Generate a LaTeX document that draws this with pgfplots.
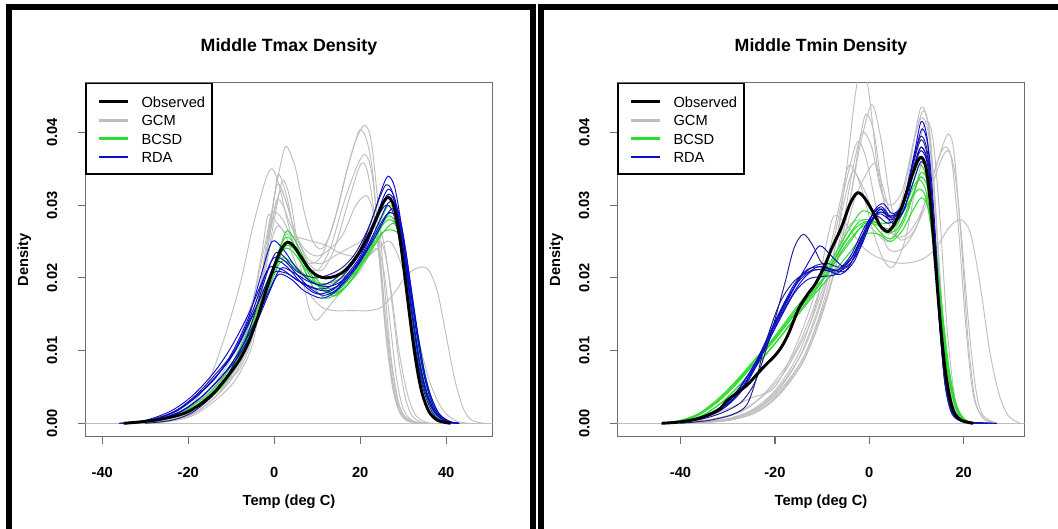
\documentclass[border=0pt]{standalone}
\usepackage{pgfplots}
\pgfplotsset{compat=1.18}
\usepackage{fontspec}
\setmainfont{Liberation Sans}
\definecolor{gcmc}{HTML}{BEBEBE}
\definecolor{bcsdc}{HTML}{2EDC2E}
\definecolor{rdac}{HTML}{0A0ACD}
\definecolor{rdanv}{HTML}{1C1C8A}
\definecolor{rbox}{HTML}{6E6E6E}
\pgfplotsset{
  gcmline/.style={gcmc, line width=0.7pt, smooth, forget plot},
  bcsdline/.style={bcsdc, line width=0.75pt, smooth, forget plot},
  rdaline/.style={rdac, line width=0.7pt, smooth, forget plot},
  rdaline2/.style={rdanv, line width=0.7pt, smooth, forget plot},
  obsline/.style={black, line width=2.2pt, smooth, forget plot},
  rpanel/.style={
    scale only axis, width=305.4pt, height=265.4pt, anchor=south west,
    ymin=-0.00181, ymax=0.04686,
    ytick={0,0.01,0.02,0.03,0.04},
    scaled y ticks=false,
    xtick pos=bottom, ytick pos=left,
    tick align=outside,
    major tick length=5.85pt,
    axis line style={draw=rbox, line width=0.9pt},
    tick style={draw=rbox, line width=0.9pt},
    /pgf/number format/assume math mode=true,
    tick label style={font=\bfseries\fontsize{11}{13}\selectfont, inner sep=0pt},
    x tick label style={anchor=center},
    xticklabel shift=21pt,
    y tick label style={rotate=90, anchor=center, /pgf/number format/fixed, /pgf/number format/fixed zerofill, /pgf/number format/precision=2},
    yticklabel shift=19pt,
    every axis title/.style={at={(axis description cs:0.5,1)}, anchor=center, yshift=26.5pt, font=\bfseries\fontsize{13.3}{16}\selectfont},
    every axis x label/.style={at={(axis description cs:0.5,0)}, anchor=center, yshift=-49pt, font=\bfseries\fontsize{11}{13}\selectfont},
    every axis y label/.style={at={(axis description cs:0,0.5)}, anchor=center, xshift=-45.75pt, rotate=90, font=\bfseries\fontsize{11}{13}\selectfont},
    xlabel={Temp (deg C)}, ylabel={Density},
    legend style={at={(axis description cs:0,1)}, anchor=north west, draw=black, line width=1.3pt, fill=white,
      inner xsep=5pt, inner ysep=7.9pt, row sep=3.3pt, column sep=9.4pt,
      font=\fontsize{11}{13}\selectfont, cells={anchor=west},
      nodes={inner sep=0pt, text height=10pt, text depth=0.5pt}},
    legend image code/.code={\path[draw=none, fill=none] (0pt,-0.6pt) -- (4.7pt,-0.6pt); \draw[##1] (4.7pt,-0.6pt) -- (26pt,-0.6pt);},
  }
}
\begin{document}
\begin{tikzpicture}
\useasboundingbox (0pt,0pt) rectangle (793.5pt,396.75pt);
% ---------------- Left panel: Tmax ----------------
\begin{axis}[rpanel, at={(64pt,69.4pt)}, xmin=-43.93, xmax=50.77, xtick={-40,-20,0,20,40}, title={Middle Tmax Density}]
\addplot[gcmline] coordinates {(-60,0)(60,0)};
% GCM
\addplot[gcmline] coordinates {(-30,0)(-22,0.0008)(-15,0.0035)(-11,0.0058)(-8,0.0075)(-5,0.012)(-2,0.022)(0,0.031)(2,0.037)(3,0.038)(5,0.035)(7,0.029)(9,0.025)(11,0.024)(13,0.026)(15,0.030)(17,0.035)(19,0.039)(21,0.041)(22.5,0.039)(24,0.031)(25.5,0.020)(27,0.010)(28.5,0.004)(30,0.0012)(33,0.0001)(36,0)};
\addplot[gcmline] coordinates {(-32,0)(-22,0.0015)(-16,0.005)(-12,0.011)(-8,0.019)(-5,0.027)(-2,0.0335)(-0.5,0.035)(1,0.033)(3,0.028)(5,0.024)(8,0.022)(11,0.023)(14,0.028)(17,0.035)(19,0.039)(20,0.0404)(21.5,0.039)(23,0.034)(24.5,0.023)(26,0.012)(27.5,0.005)(29,0.0017)(31,0.0003)(35,0)};
\addplot[gcmline] coordinates {(-30,0)(-20,0.001)(-14,0.0035)(-9,0.007)(-5,0.0125)(-2,0.024)(0,0.031)(1,0.0343)(3,0.031)(5,0.025)(7,0.022)(10,0.021)(13,0.024)(16,0.030)(19,0.035)(21,0.037)(22.5,0.035)(24,0.028)(25.5,0.017)(27,0.008)(28.5,0.003)(30,0.0008)(33,0)};
\addplot[gcmline] coordinates {(-28,0)(-20,0.0008)(-14,0.003)(-9,0.006)(-5,0.011)(-2,0.021)(0,0.028)(2,0.0334)(4,0.030)(6,0.022)(8,0.016)(9.5,0.0142)(11,0.0148)(14,0.017)(17,0.019)(20,0.021)(22,0.023)(24,0.024)(25.5,0.021)(27,0.0135)(28.5,0.006)(30,0.002)(32,0.0004)(35,0)};
\addplot[gcmline] coordinates {(-30,0)(-20,0.0015)(-14,0.005)(-9,0.009)(-5,0.015)(-2,0.022)(0.5,0.027)(2.5,0.026)(5,0.022)(8,0.018)(11,0.016)(14,0.0155)(18,0.0155)(22,0.0155)(25,0.016)(28,0.018)(31,0.0205)(34,0.0215)(36,0.021)(38,0.018)(40,0.012)(42,0.006)(44,0.002)(46,0.0004)(49,0)};
\addplot[gcmline] coordinates {(-30,0)(-20,0.001)(-13,0.004)(-8,0.008)(-4,0.016)(-1,0.026)(0.5,0.0306)(2,0.030)(4,0.027)(7,0.024)(10,0.023)(13,0.024)(16,0.026)(19,0.030)(21.5,0.0313)(23,0.029)(24.5,0.023)(26,0.014)(27.5,0.007)(29,0.0025)(31,0.0006)(34,0)};
\addplot[gcmline] coordinates {(-32,0)(-22,0.001)(-15,0.004)(-10,0.008)(-6,0.014)(-3,0.023)(-1.5,0.0285)(0,0.028)(3,0.026)(6,0.0255)(9,0.025)(12,0.0245)(15,0.0235)(18,0.023)(21,0.023)(24,0.025)(25.5,0.024)(27,0.019)(29,0.010)(31,0.004)(33,0.001)(36,0)};
\addplot[gcmline] coordinates {(-29,0)(-20,0.001)(-14,0.0035)(-9,0.0075)(-5,0.0135)(-2,0.023)(0,0.029)(1.5,0.032)(3,0.030)(5,0.026)(8,0.022)(11,0.021)(14,0.024)(17,0.030)(20,0.0355)(21.5,0.035)(23,0.030)(24.5,0.022)(26,0.012)(27.5,0.0055)(29,0.002)(31,0.0005)(34,0)};
\addplot[gcmline] coordinates {(-33,0)(-23,0.001)(-16,0.004)(-10,0.009)(-5,0.017)(-2,0.025)(-0.5,0.029)(2,0.028)(5,0.024)(8,0.020)(12,0.019)(16,0.020)(20,0.022)(24,0.024)(27,0.025)(30,0.021)(33,0.013)(36,0.006)(39,0.002)(42,0.0004)(45,0)};
\addplot[gcmline] coordinates {(-30,0)(-21,0.001)(-14,0.004)(-9,0.0075)(-5,0.013)(-2,0.023)(0.5,0.0326)(2.5,0.031)(5,0.026)(8,0.0225)(11,0.022)(14,0.023)(17,0.024)(20,0.025)(22.5,0.0265)(24.5,0.027)(26,0.023)(27.5,0.016)(29,0.0085)(30.5,0.0035)(32,0.0011)(34,0.0002)(37,0)};
% BCSD
\addplot[bcsdline] coordinates {(-34,0)(-28,0.0004)(-22,0.0012)(-17,0.0026)(-12,0.0052)(-8,0.0095)(-4,0.0145)(-1,0.0195)(1.5,0.0232)(3,0.0245)(5,0.0237)(8,0.021)(11,0.0185)(14,0.018)(17,0.0195)(20,0.022)(23,0.025)(25.5,0.0275)(27,0.028)(28.5,0.027)(30,0.023)(31.5,0.017)(33,0.011)(34.5,0.006)(36,0.003)(38,0.001)(41,0)};
\addplot[bcsdline] coordinates {(-34,0)(-28,0.0004)(-22,0.0013)(-17,0.0028)(-12,0.0055)(-8,0.0098)(-4,0.015)(-1,0.020)(1.5,0.0245)(3,0.0265)(5,0.025)(8,0.0215)(11,0.019)(14,0.0175)(17,0.019)(20,0.0215)(23,0.0245)(25,0.0262)(27,0.0266)(29,0.026)(30.5,0.023)(32,0.0175)(33.5,0.0115)(35,0.0065)(36.5,0.003)(38.5,0.001)(41,0)};
\addplot[bcsdline] coordinates {(-33,0)(-27,0.0005)(-21,0.0016)(-16,0.0034)(-11,0.0065)(-7,0.011)(-3,0.0162)(0,0.0205)(1.5,0.0222)(3,0.0222)(6,0.0207)(9,0.0195)(12,0.0192)(15,0.0198)(18,0.021)(21,0.0235)(24,0.027)(26,0.0295)(27,0.030)(28.5,0.029)(30,0.025)(31.5,0.0185)(33,0.0115)(34.5,0.0065)(36,0.003)(38,0.001)(41,0)};
\addplot[bcsdline] coordinates {(-33,0)(-27,0.0004)(-21,0.0014)(-16,0.003)(-11,0.006)(-7,0.0105)(-3,0.016)(0,0.0205)(2,0.0238)(4,0.0238)(7,0.0215)(10,0.019)(13,0.0178)(16,0.0185)(19,0.0205)(22,0.0235)(24.5,0.0268)(26.5,0.0285)(28,0.0278)(29.5,0.0245)(31,0.019)(32.5,0.0125)(34,0.007)(35.5,0.0035)(37.5,0.0012)(40,0)};
\addplot[bcsdline] coordinates {(-34,0)(-28,0.0004)(-22,0.0013)(-17,0.0029)(-12,0.0057)(-8,0.0095)(-4,0.0148)(-1,0.0198)(1,0.0235)(2.5,0.0255)(4,0.0252)(6,0.0225)(9,0.0188)(12,0.0172)(15,0.018)(18,0.0198)(21,0.0228)(24,0.0262)(26,0.0283)(27,0.029)(28.5,0.0282)(30,0.0245)(31.5,0.0185)(33,0.012)(34.5,0.0068)(36,0.0033)(38,0.0011)(41,0)};
\addplot[bcsdline] coordinates {(-33,0)(-27,0.0005)(-21,0.0018)(-16,0.0037)(-11,0.007)(-7,0.0115)(-3,0.017)(-0.5,0.021)(1,0.0226)(3,0.0226)(6,0.021)(9.5,0.0192)(12.5,0.0185)(16,0.0192)(19,0.0208)(22,0.0232)(25,0.026)(27.5,0.0275)(29,0.0265)(30.5,0.0228)(32,0.0172)(33.5,0.0112)(35,0.0064)(36.5,0.003)(38.5,0.001)(41,0)};
% RDA
\addplot[rdaline] coordinates {(-36,0)(-30,0.0003)(-24,0.0014)(-19,0.0033)(-14,0.006)(-10,0.0095)(-6,0.0145)(-3,0.0205)(-0.5,0.0250)(2,0.0240)(5,0.0215)(8,0.0197)(11,0.0190)(14,0.0198)(17,0.0215)(20,0.0240)(23,0.0285)(25,0.0322)(26.5,0.0340)(28,0.0325)(29.5,0.0275)(31,0.0205)(32.5,0.0135)(34,0.0078)(35.5,0.0042)(37.5,0.0015)(40,0.0003)(43,0)};
\addplot[rdaline] coordinates {(-35,0)(-29,0.0004)(-23,0.0016)(-18,0.0038)(-13,0.0068)(-9,0.0100)(-5,0.0148)(-2,0.019)(0.5,0.0222)(3,0.0215)(6,0.0195)(9,0.018)(11,0.0178)(14,0.0185)(17,0.0205)(20,0.023)(23,0.027)(25,0.030)(26.5,0.0315)(28,0.0305)(29.5,0.026)(31,0.0195)(32.5,0.013)(34,0.0075)(35.5,0.004)(37.5,0.0015)(40,0.0003)(43,0)};
\addplot[rdaline2] coordinates {(-35,0)(-29,0.0004)(-23,0.0017)(-18,0.004)(-13,0.0072)(-9,0.0102)(-5,0.015)(-2,0.0188)(0,0.0208)(3,0.0206)(6,0.0195)(10,0.0185)(13,0.0188)(16,0.0203)(19,0.0225)(22,0.0255)(24.5,0.0288)(26,0.030)(27.5,0.0292)(29,0.0255)(30.5,0.0195)(32,0.0135)(33.5,0.0082)(35,0.0045)(37,0.0017)(39.5,0.0004)(42,0)};
\addplot[rdaline] coordinates {(-34,0)(-28,0.0004)(-22,0.0016)(-17,0.0036)(-12,0.0066)(-8,0.0095)(-4,0.014)(-1,0.0182)(1,0.0205)(4,0.0198)(7,0.0182)(11,0.0172)(14,0.018)(17,0.0198)(20,0.0222)(23,0.0255)(25.5,0.0282)(27,0.029)(28.5,0.0282)(30,0.0248)(31.5,0.019)(33,0.0128)(34.5,0.0075)(36,0.004)(38,0.0013)(41,0.0002)(43,0)};
\addplot[rdaline2] coordinates {(-30,0)(-24,0.0004)(-19,0.0015)(-14,0.004)(-10,0.0075)(-6,0.0125)(-3,0.0182)(-1,0.0218)(0.5,0.0235)(2.5,0.0228)(5,0.021)(8,0.0202)(10,0.020)(13,0.0205)(16,0.0215)(19,0.0235)(22,0.027)(24.5,0.031)(26,0.0328)(27.5,0.0318)(29,0.027)(30.5,0.0205)(32,0.0135)(33.5,0.0078)(35,0.004)(37,0.0013)(39.5,0.0002)(42,0)};
\addplot[rdaline] coordinates {(-36,0)(-30,0.0004)(-24,0.0017)(-19,0.0038)(-14,0.007)(-10,0.0105)(-6,0.015)(-3,0.0192)(-1,0.0215)(2,0.0211)(5,0.0198)(8.5,0.0187)(12,0.0182)(15,0.019)(18,0.0208)(21,0.0235)(24,0.0272)(26,0.0298)(27,0.0305)(28.5,0.0298)(30,0.026)(31.5,0.0198)(33,0.0135)(34.5,0.0082)(36,0.0045)(38,0.0016)(40.5,0.0003)(43,0)};
\addplot[rdaline] coordinates {(-35,0)(-29,0.0004)(-23,0.0016)(-18,0.0037)(-13,0.0068)(-9,0.0102)(-5,0.0155)(-2,0.0205)(0,0.0228)(2.5,0.0223)(5.5,0.0203)(8.5,0.0185)(11.5,0.0176)(14.5,0.0184)(17.5,0.0205)(20.5,0.0232)(23,0.0268)(25,0.0305)(26.5,0.0322)(28,0.031)(29.5,0.0265)(31,0.0198)(32.5,0.0132)(34,0.0077)(35.5,0.0041)(37.5,0.0014)(40,0.0003)(43,0)};
\addplot[rdaline] coordinates {(-34,0)(-28,0.0004)(-22,0.0015)(-17,0.0036)(-12,0.0066)(-8,0.0100)(-4,0.0145)(-1,0.0185)(1.5,0.0213)(4,0.0209)(8,0.0195)(12,0.0188)(15,0.0193)(18,0.0208)(21,0.0232)(24,0.0262)(26,0.0285)(27.5,0.0295)(29,0.0282)(30.5,0.024)(32,0.018)(33.5,0.012)(35,0.0069)(36.5,0.0036)(38.5,0.0012)(41,0.0002)(43,0)};
% Observed
\addplot[obsline] coordinates {(-35,0)(-31,0.0002)(-27,0.0005)(-23,0.001)(-20,0.0016)(-17,0.0027)(-14,0.0042)(-12,0.0056)(-10,0.0071)(-8,0.0088)(-6,0.0111)(-4,0.0143)(-2,0.0181)(0,0.0216)(1.5,0.0238)(3,0.0249)(4.5,0.0244)(6,0.0231)(8,0.0213)(10,0.0203)(12,0.0200)(14,0.0202)(16,0.0208)(18,0.0220)(20,0.0237)(22,0.0259)(24,0.0286)(25.5,0.0305)(26.5,0.0311)(27.5,0.0304)(28.5,0.0281)(29.5,0.0243)(30.5,0.0196)(31.5,0.0148)(32.5,0.0103)(33.5,0.0066)(34.5,0.0039)(36,0.0016)(38,0.0004)(41,0)};
\addlegendimage{black, line width=2.2pt}\addlegendentry{Observed}
\addlegendimage{gcmc, line width=2.2pt}\addlegendentry{GCM}
\addlegendimage{bcsdc, line width=2.2pt}\addlegendentry{BCSD}
\addlegendimage{rdac, line width=2.2pt}\addlegendentry{RDA}
\end{axis}
% ---------------- Right panel: Tmin ----------------
\begin{axis}[rpanel, at={(463pt,69.4pt)}, xmin=-53.39, xmax=32.9, xtick={-40,-20,0,20}, title={Middle Tmin Density}]
\addplot[gcmline] coordinates {(-60,0)(60,0)};
% GCM
\addplot[gcmline] coordinates {(-40,0)(-30,0.0006)(-24,0.002)(-19,0.005)(-14,0.010)(-10,0.017)(-7,0.025)(-5,0.034)(-3,0.045)(-1.5,0.050)(0,0.045)(2,0.034)(4.5,0.028)(7,0.031)(9.5,0.039)(11.5,0.043)(13,0.039)(14.5,0.025)(16,0.011)(17.5,0.003)(19.5,0.0005)(23,0)};
\addplot[gcmline] coordinates {(-38,0)(-30,0.0005)(-24,0.0018)(-19,0.0045)(-14,0.009)(-10,0.0155)(-7,0.022)(-4,0.031)(-2,0.038)(0.5,0.0438)(2.5,0.039)(5,0.029)(7.5,0.031)(9.5,0.039)(11,0.0435)(12.5,0.041)(14,0.030)(15.5,0.015)(17,0.005)(18.5,0.0012)(21,0)};
\addplot[gcmline] coordinates {(-38,0)(-30,0.0004)(-24,0.0015)(-19,0.0040)(-14,0.0085)(-10,0.015)(-7,0.022)(-4,0.031)(-2,0.039)(-0.7,0.0425)(1,0.040)(3,0.031)(5,0.026)(8,0.026)(11,0.029)(14,0.035)(16,0.039)(17,0.0397)(18,0.037)(19.5,0.025)(21,0.011)(22.5,0.003)(24.5,0.0005)(27,0)};
\addplot[gcmline] coordinates {(-40,0)(-32,0.0006)(-26,0.002)(-21,0.005)(-16,0.0095)(-12,0.0155)(-8,0.024)(-5,0.033)(-2.5,0.0387)(-0.5,0.036)(2,0.028)(4,0.024)(7,0.024)(10,0.027)(13,0.033)(15,0.037)(16.3,0.038)(17.5,0.036)(19,0.026)(20.5,0.013)(22,0.004)(24,0.0008)(27,0)};
\addplot[gcmline] coordinates {(-44,0)(-36,0.0006)(-30,0.002)(-25,0.0035)(-20,0.005)(-15,0.0115)(-11,0.019)(-9,0.025)(-7.5,0.0285)(-5,0.0275)(-1,0.024)(3,0.0225)(7,0.022)(11,0.0225)(14,0.024)(17,0.027)(19.5,0.028)(21.5,0.026)(23.5,0.019)(25.5,0.010)(27.5,0.004)(29.5,0.001)(32,0)};
\addplot[gcmline] coordinates {(-40,0)(-31,0.0005)(-25,0.0018)(-20,0.0045)(-15,0.0095)(-11,0.017)(-8,0.025)(-6,0.031)(-4.3,0.0355)(-2,0.033)(1,0.026)(3,0.0225)(5,0.0215)(7.5,0.025)(10,0.033)(11.4,0.036)(12.8,0.033)(14.3,0.022)(15.8,0.010)(17.3,0.003)(19,0.0006)(22,0)};
\addplot[gcmline] coordinates {(-40,0)(-31,0.0004)(-25,0.0016)(-20,0.004)(-15,0.0088)(-11,0.0155)(-8,0.022)(-5.5,0.030)(-3.5,0.0346)(-1,0.032)(1.5,0.028)(4,0.026)(6.5,0.028)(9.5,0.036)(12,0.0415)(13.5,0.039)(15,0.028)(16.5,0.013)(18,0.004)(19.5,0.001)(22,0)};
\addplot[gcmline] coordinates {(-38,0)(-30,0.0004)(-24,0.0015)(-19,0.004)(-14,0.0085)(-10,0.015)(-6,0.024)(-3,0.031)(0,0.035)(1.5,0.0355)(3.5,0.031)(6,0.0255)(9,0.026)(12,0.030)(14.5,0.035)(16.5,0.0375)(18,0.035)(19.5,0.026)(21,0.014)(22.5,0.005)(24,0.0012)(27,0)};
\addplot[gcmline] coordinates {(-39,0)(-30,0.0004)(-24,0.0016)(-19,0.0042)(-14,0.009)(-10,0.016)(-6,0.026)(-3.5,0.035)(-1.5,0.040)(0.5,0.038)(2.5,0.032)(4.5,0.030)(7,0.032)(9.5,0.039)(11,0.042)(12.5,0.040)(14,0.029)(15.5,0.014)(17,0.0045)(18.5,0.001)(21,0)};
\addplot[gcmline] coordinates {(-42,0)(-34,0.0005)(-28,0.0015)(-23,0.0035)(-18,0.007)(-13,0.013)(-9,0.020)(-5,0.0265)(-2,0.028)(1,0.0265)(4,0.025)(7,0.028)(9.5,0.032)(11,0.034)(12.5,0.032)(14,0.024)(15.5,0.013)(17,0.005)(18.5,0.0013)(21,0)};
% BCSD
\addplot[bcsdline] coordinates {(-44,0)(-40,0.0003)(-36,0.0012)(-32,0.003)(-28,0.0055)(-24,0.0085)(-20,0.0115)(-16,0.0148)(-12,0.018)(-8,0.0215)(-4,0.025)(-1,0.0275)(2,0.0272)(4.5,0.0268)(7,0.029)(9,0.032)(10.5,0.0335)(12,0.032)(13.5,0.026)(15,0.0165)(16.5,0.008)(18,0.003)(19.5,0.0008)(22,0)};
\addplot[bcsdline] coordinates {(-44,0)(-40,0.0004)(-36,0.0014)(-32,0.0034)(-28,0.006)(-24,0.009)(-20,0.012)(-16,0.0155)(-12,0.0188)(-8,0.0225)(-4,0.027)(-1.5,0.0292)(1,0.0285)(3.5,0.0265)(6,0.0275)(8.5,0.0315)(10.5,0.0355)(12,0.034)(13.5,0.0275)(15,0.0175)(16.5,0.0085)(18,0.003)(19.5,0.0008)(22,0)};
\addplot[bcsdline] coordinates {(-43,0)(-39,0.0003)(-35,0.0012)(-31,0.003)(-27,0.0056)(-23,0.0086)(-19,0.0117)(-15,0.015)(-11,0.0182)(-7,0.0212)(-4,0.0236)(-1,0.026)(2,0.026)(4.5,0.025)(7,0.0265)(9,0.029)(11,0.031)(12.5,0.0295)(14,0.023)(15.5,0.014)(17,0.0065)(18.5,0.0022)(20,0.0006)(22,0)};
\addplot[bcsdline] coordinates {(-44,0)(-40,0.0004)(-36,0.0013)(-32,0.0032)(-28,0.0058)(-24,0.0088)(-20,0.0118)(-16,0.0152)(-12,0.0186)(-8,0.022)(-5,0.0252)(-2,0.0278)(1,0.0278)(4,0.0262)(6.5,0.0272)(9,0.031)(10.8,0.0338)(12.3,0.0325)(13.8,0.0262)(15.3,0.0165)(16.8,0.0078)(18.3,0.0028)(20,0.0007)(22,0)};
\addplot[bcsdline] coordinates {(-43,0)(-39,0.0003)(-35,0.0012)(-31,0.003)(-27,0.0056)(-23,0.0087)(-19,0.0118)(-15,0.0152)(-11,0.0186)(-8,0.0214)(-5,0.0245)(-2,0.0268)(1,0.0276)(3.5,0.0275)(6,0.028)(8.5,0.0305)(10.5,0.0322)(12,0.031)(13.5,0.025)(15,0.016)(16.5,0.0075)(18,0.0027)(19.5,0.0007)(22,0)};
\addplot[bcsdline] coordinates {(-44,0)(-40,0.0003)(-36,0.0012)(-32,0.0031)(-28,0.0057)(-24,0.0086)(-20,0.0116)(-16,0.0149)(-12,0.0181)(-9,0.0207)(-6,0.024)(-3,0.0268)(0,0.0278)(3,0.0258)(5,0.0255)(7.5,0.028)(9.5,0.0318)(11,0.0345)(12.5,0.0328)(14,0.025)(15.5,0.0152)(17,0.007)(18.5,0.0024)(20,0.0006)(22,0)};
% RDA
\addplot[rdaline2] coordinates {(-42,0)(-36,0.0005)(-31,0.0015)(-27,0.003)(-24,0.006)(-21,0.012)(-18,0.019)(-16,0.024)(-14,0.026)(-12,0.0245)(-10,0.022)(-7,0.021)(-4,0.0225)(-1,0.0265)(1.5,0.0285)(4,0.0275)(6.5,0.029)(9,0.035)(11,0.039)(12.5,0.036)(13.8,0.026)(15,0.013)(16.3,0.005)(17.8,0.0013)(20,0.0002)(23,0)};
\addplot[rdaline] coordinates {(-43,0)(-37,0.0006)(-32,0.002)(-28,0.0045)(-24,0.0085)(-20,0.0135)(-16,0.0185)(-13,0.022)(-10.5,0.0244)(-8,0.023)(-5,0.0215)(-2,0.024)(1,0.0285)(3,0.029)(5,0.0275)(7.5,0.0295)(9.5,0.035)(11,0.038)(12.5,0.0355)(13.8,0.026)(15,0.014)(16.3,0.0055)(17.8,0.0015)(20,0.0003)(24,0)};
\addplot[rdaline] coordinates {(-42,0)(-36,0.0006)(-31,0.002)(-27,0.0045)(-23,0.009)(-19,0.0145)(-15,0.019)(-12,0.021)(-9,0.021)(-6,0.0205)(-3,0.0225)(0,0.0275)(2.5,0.0295)(4.5,0.0285)(7,0.030)(9.5,0.037)(11,0.0415)(12.3,0.039)(13.5,0.029)(14.7,0.016)(16,0.006)(17.5,0.0015)(20,0.0002)(25,0)};
\addplot[rdaline2] coordinates {(-42,0)(-36,0.0006)(-31,0.0021)(-27,0.0047)(-23,0.0093)(-19,0.015)(-15,0.0197)(-12,0.0215)(-9,0.022)(-6,0.0215)(-3,0.0235)(0,0.028)(2.5,0.0298)(5,0.0282)(7.5,0.0305)(9.5,0.0365)(11,0.0395)(12.4,0.037)(13.6,0.0275)(14.8,0.015)(16,0.0058)(17.5,0.0015)(20,0.0002)(25,0)};
\addplot[rdaline] coordinates {(-43,0)(-37,0.0005)(-32,0.0018)(-28,0.004)(-24,0.008)(-20,0.013)(-16,0.0178)(-13,0.0198)(-10,0.0202)(-7,0.0205)(-4,0.0225)(-1,0.0262)(2,0.0288)(4.5,0.028)(7,0.029)(9.5,0.0335)(11,0.036)(12.4,0.034)(13.7,0.0255)(15,0.0135)(16.3,0.0055)(18,0.0012)(21,0.0002)(27,0)};
\addplot[rdaline] coordinates {(-42,0)(-36,0.0006)(-31,0.0021)(-27,0.0048)(-23,0.0095)(-19,0.0152)(-15,0.0195)(-11,0.0215)(-8,0.0212)(-5,0.021)(-2,0.0245)(1,0.0292)(3,0.0302)(5,0.0288)(7.5,0.0305)(9.5,0.0352)(11,0.0375)(12.5,0.035)(13.7,0.0255)(14.9,0.0135)(16.2,0.005)(17.8,0.0012)(20.5,0.0002)(25,0)};
\addplot[rdaline] coordinates {(-43,0)(-37,0.0006)(-32,0.002)(-28,0.0043)(-24,0.0085)(-20,0.014)(-16,0.019)(-13,0.0212)(-10,0.0215)(-7,0.021)(-4,0.023)(-1,0.027)(2,0.0295)(4.5,0.0283)(7,0.0298)(9.5,0.0365)(11.2,0.0405)(12.6,0.0375)(13.8,0.028)(15,0.015)(16.3,0.0058)(18,0.0013)(21,0.0002)(27,0)};
\addplot[rdaline2] coordinates {(-40,0)(-34,0.0004)(-29,0.0012)(-26,0.0025)(-24,0.006)(-22,0.011)(-19,0.0165)(-16,0.0195)(-13,0.0208)(-10,0.0212)(-7,0.0208)(-4,0.022)(-1,0.026)(2,0.029)(4.5,0.0285)(7,0.0295)(9.5,0.0355)(11,0.038)(12.4,0.0355)(13.6,0.0265)(14.8,0.0145)(16,0.0055)(17.5,0.0013)(20,0.0002)(24,0)};
% Observed
\addplot[obsline] coordinates {(-44,0)(-40,0.0002)(-36,0.0007)(-32,0.0018)(-30,0.0032)(-26,0.0052)(-24,0.0066)(-22,0.0080)(-20,0.0093)(-18.5,0.0106)(-17,0.0125)(-15,0.0157)(-13,0.0178)(-11.5,0.0191)(-9.5,0.0216)(-8,0.0240)(-6,0.0268)(-4,0.0303)(-2.5,0.0317)(-1,0.0310)(1,0.0288)(2.5,0.0270)(4,0.0264)(5.5,0.0276)(7,0.0300)(8.5,0.0330)(10,0.0357)(11,0.0366)(12,0.0352)(13,0.0300)(14,0.0220)(15,0.0142)(16,0.0078)(17,0.0037)(18,0.0015)(19.5,0.0004)(22,0)};
\addlegendimage{black, line width=2.2pt}\addlegendentry{Observed}
\addlegendimage{gcmc, line width=2.2pt}\addlegendentry{GCM}
\addlegendimage{bcsdc, line width=2.2pt}\addlegendentry{BCSD}
\addlegendimage{rdac, line width=2.2pt}\addlegendentry{RDA}
\end{axis}
% panel frames
\draw[line width=4.3pt] (6.75pt,-2.1pt) rectangle (400pt,391.5pt);
\draw[line width=4.3pt] (405.8pt,-2.1pt) rectangle (797pt,391.5pt);
\end{tikzpicture}
\end{document}
